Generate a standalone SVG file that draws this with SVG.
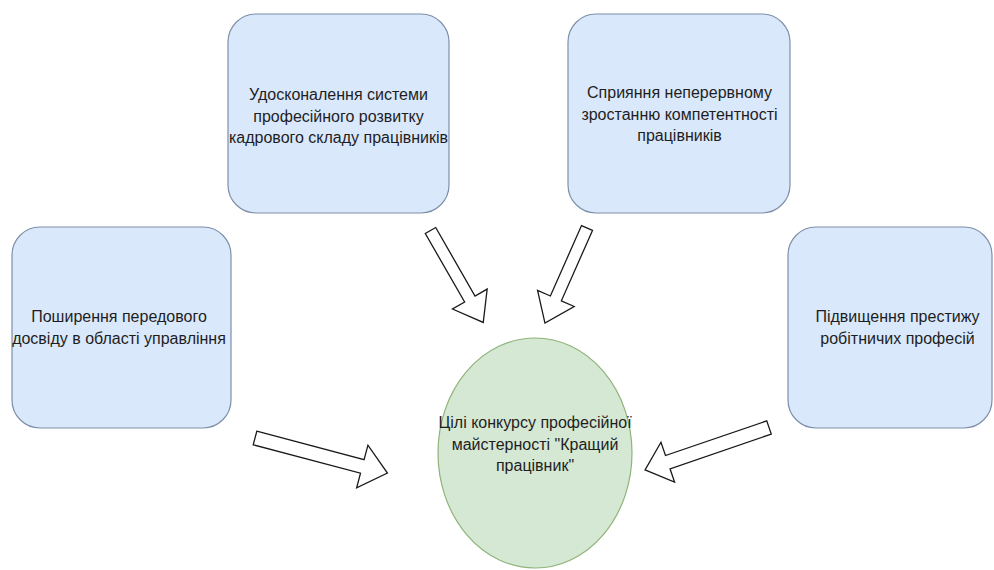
<svg xmlns="http://www.w3.org/2000/svg" width="994" height="570" viewBox="0 0 994 570">
  <style>
    .box { fill: #dae8fc; stroke: #7d8fa8; stroke-width: 1.2; }
    .goal { fill: #d5e8d4; stroke: #8fb37a; stroke-width: 1.2; }
    .lbl { font-family: "Liberation Sans", Arial, sans-serif; font-size: 16px; fill: #1e1e1e; text-anchor: middle; }
    .arrow { fill: #ffffff; stroke: #1a1a1a; stroke-width: 1.3; stroke-linejoin: miter; }
  </style>
  <rect width="994" height="570" fill="#ffffff"/>

  <g id="node-professional-development">
    <rect class="box" x="228" y="14" width="221" height="199" rx="28" ry="28"/>
    <text class="lbl" x="338.5" y="100">Удосконалення системи</text>
    <text class="lbl" x="338.5" y="121.5">професійного розвитку</text>
    <text class="lbl" x="338.5" y="143">кадрового складу працівників</text>
  </g>

  <g id="node-competence-growth">
    <rect class="box" x="568" y="14" width="222" height="199" rx="28" ry="28"/>
    <text class="lbl" x="679.5" y="98">Сприяння неперервному</text>
    <text class="lbl" x="679.5" y="119.5">зростанню компетентності</text>
    <text class="lbl" x="679.5" y="141">працівників</text>
  </g>

  <g id="node-best-practices">
    <rect class="box" x="12" y="227" width="219" height="201" rx="28" ry="28"/>
    <text class="lbl" x="119" y="322">Поширення передового</text>
    <text class="lbl" x="119" y="343.5">досвіду в області управління</text>
  </g>

  <g id="node-prestige">
    <rect class="box" x="788" y="227" width="204" height="201" rx="28" ry="28"/>
    <text class="lbl" x="897.5" y="322">Підвищення престижу</text>
    <text class="lbl" x="897.5" y="343.5">робітничих професій</text>
  </g>

  <g id="node-goals">
    <ellipse class="goal" cx="535" cy="453" rx="97" ry="115"/>
    <text class="lbl" x="535" y="428">Цілі конкурсу професійної</text>
    <text class="lbl" x="535" y="449.5">майстерності "Кращий</text>
    <text class="lbl" x="535" y="471">працівник"</text>
  </g>

  <g id="connectors">
    <polygon class="arrow" transform="translate(255,438) rotate(14.85)" points="0,-7 111,-7 111,-22 137,0 111,22 111,7 0,7"/>
    <polygon class="arrow" transform="translate(430.5,230.5) rotate(60.15)" points="0,-6 79,-6 79,-20 106,0 79,20 79,6 0,6"/>
    <polygon class="arrow" transform="translate(587,228) rotate(113.85)" points="0,-6 77,-6 77,-20 104,0 77,20 77,6 0,6"/>
    <polygon class="arrow" transform="translate(769,427.5) rotate(161.1)" points="0,-7 107,-7 107,-21 131,0 107,21 107,7 0,7"/>
  </g>
</svg>
